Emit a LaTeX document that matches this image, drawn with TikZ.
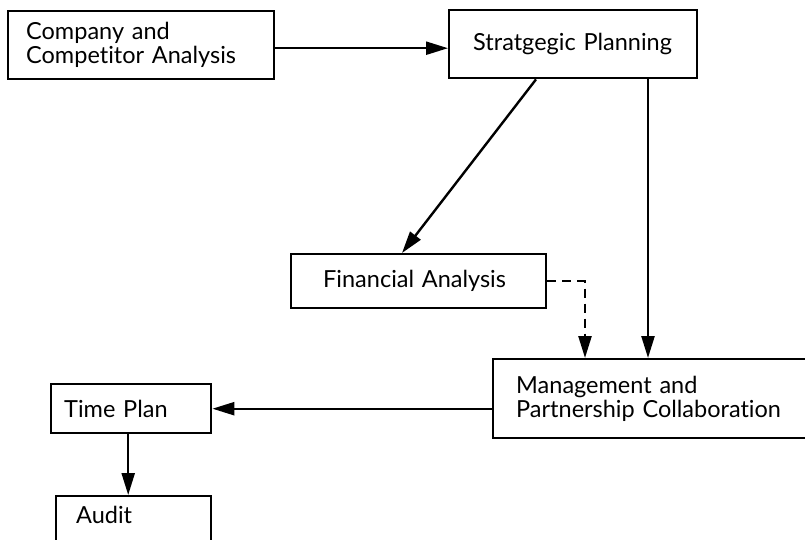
\documentclass[tikz,border=0pt]{standalone}
\usepackage{fontspec}
\setmainfont[Ligatures=NoCommon]{Lato}
\usetikzlibrary{arrows.meta}
\begin{document}
\begin{tikzpicture}[x=1pt,y=-1pt,
  box/.style={draw,line width=2.4pt,anchor=north west,align=left,inner ysep=0pt,
    font=\fontsize{23.5}{24}\selectfont},
  arr/.style={line width=2.4pt,-{Triangle[length=22pt,width=13pt]}},
  dsh/.style={line width=2.4pt,dash pattern=on 9pt off 6pt,-{Triangle[length=22pt,width=13pt]}}]
\useasboundingbox (0,0) rectangle (805,540);
\clip (0,0) rectangle (805,540);
\fill[white] (0,0) rectangle (805,540);
\node[box,inner xsep=18pt,text width=230pt,minimum height=68pt] (cca) at (7,10)
  {Company and\\Competitor Analysis};
\node[box,inner xsep=24pt,text width=200pt,minimum height=68pt] (sp) at (448,9)
  {Stratgegic Planning};
\node[box,inner xsep=32pt,text width=191pt,minimum height=54pt] (fa) at (290,253)
  {Financial Analysis};
\node[box,inner xsep=23pt,text width=280pt,minimum height=79pt] (mpc) at (492,358)
  {Management and\\Partnership Collaboration};
\node[box,inner xsep=13pt,text width=134pt,minimum height=49pt] (tp) at (50,383)
  {Time Plan};
\node[box,inner xsep=20pt,text width=115pt,text height=27pt,text depth=40pt] (au) at (55,495)
  {Audit};
\draw[arr] ([yshift=-3pt]cca.east) -- ([yshift=-3pt]cca.east -| sp.west);
\draw[arr] ([xshift=88pt]sp.south west) -- ([xshift=112pt]fa.north west);
\draw[arr] ([xshift=200pt]sp.south west) -- ([xshift=200pt]sp.south west |- mpc.north);
\draw[dsh] (fa.east) -| ([xshift=93pt]mpc.north west);
\draw[arr] (tp.east -| mpc.west) -- (tp.east);
\draw[arr] ([xshift=-3pt]tp.south) -- ([xshift=-3pt]tp.south |- au.north);
\end{tikzpicture}
\end{document}
